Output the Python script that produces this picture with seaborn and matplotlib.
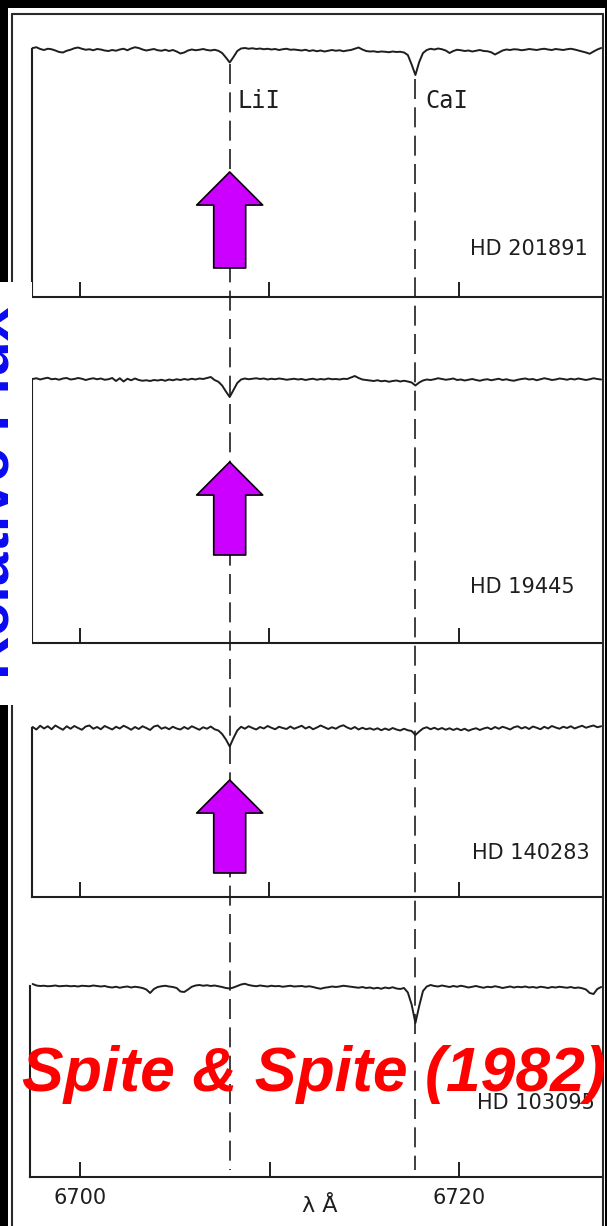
import numpy as np
import matplotlib
matplotlib.use("Agg")
import matplotlib.pyplot as plt
from matplotlib.lines import Line2D
from matplotlib.patches import Rectangle, FancyArrowPatch
from matplotlib.transforms import blended_transform_factory
import seaborn as sns

# ---------------- data ----------------
WAVE = np.round(np.linspace(6697.5, 6727.5, 151), 1)   # wavelength grid (Angstrom)
STARS = ["HD 201891", "HD 19445", "HD 140283", "HD 103095"]

FLUX_HD201891 = [
    100.6, 100.9, 100.2, 99.8, 100.3, 100.1, 99.6, 99.0, 98.8, 99.5,
    99.9, 100.5, 100.8, 100.3, 99.9, 100.1, 99.7, 100.2, 100.0, 99.6,
    99.4, 99.8, 99.5, 100.0, 100.3, 99.7, 100.4, 100.9, 100.6, 100.0,
    99.6, 99.9, 100.2, 99.7, 99.5, 99.9, 99.4, 99.8, 99.2, 98.4,
    98.8, 99.6, 100.0, 99.7, 99.9, 100.2, 99.8, 99.6, 99.9, 99.5,
    98.6, 96.8, 94.8, 97.0, 99.4, 100.4, 100.6, 100.3, 100.5, 100.2,
    100.4, 100.1, 100.3, 100.0, 100.2, 99.8, 100.1, 100.3, 99.9, 100.0,
    99.8, 99.6, 99.9, 99.4, 99.7, 99.3, 99.6, 99.2, 99.5, 99.8,
    99.5, 99.7, 99.3, 99.6, 99.8, 100.3, 100.8, 100.0, 99.4, 99.2,
    99.3, 99.0, 99.2, 99.1, 98.9, 99.2, 99.0, 99.1, 98.8, 97.8,
    94.0, 89.8, 95.0, 98.6, 99.8, 100.3, 100.0, 100.4, 100.1, 99.6,
    98.6, 99.4, 99.9, 99.7, 99.4, 99.6, 99.2, 99.5, 99.8, 99.4,
    99.3, 98.9, 98.0, 98.8, 99.6, 100.0, 99.8, 100.1, 100.0, 99.7,
    99.9, 100.2, 100.0, 99.8, 100.1, 100.3, 100.0, 99.8, 100.2, 100.0,
    99.8, 100.1, 100.3, 100.0, 99.6, 99.2, 98.8, 98.3, 99.2, 100.0,
    100.6]
FLUX_HD19445 = [
    100.0, 100.3, 99.8, 100.2, 100.5, 99.9, 100.1, 99.7, 100.2, 100.4,
    99.8, 100.0, 100.4, 100.1, 99.6, 100.0, 100.3, 99.9, 100.2, 99.7,
    99.9, 100.4, 99.2, 100.3, 99.0, 100.1, 99.5, 100.2, 99.6, 99.3,
    99.5, 99.2, 99.6, 99.4, 99.7, 99.3, 99.8, 99.5, 99.9, 99.6,
    100.0, 99.7, 100.1, 99.8, 100.2, 100.0, 100.4, 100.8, 99.6, 98.9,
    97.4, 95.0, 92.8, 95.6, 98.4, 99.8, 100.2, 99.9, 100.1, 100.3,
    100.0, 100.2, 99.8, 100.1, 99.9, 100.2, 100.0, 99.7, 99.9, 100.1,
    99.8, 100.0, 99.6, 99.9, 100.1, 99.7, 100.0, 99.8, 100.2, 99.9,
    100.0, 99.8, 100.1, 100.0, 100.6, 101.2, 100.4, 99.8, 99.6, 99.4,
    99.2, 99.5, 99.1, 99.3, 98.9, 99.2, 99.4, 99.0, 99.3, 99.0,
    98.6, 97.4, 98.6, 99.4, 99.8, 99.6, 99.9, 100.3, 100.0, 99.7,
    99.9, 100.2, 99.6, 99.8, 99.4, 99.7, 100.0, 99.6, 99.3, 99.7,
    99.9, 99.5, 99.8, 100.1, 99.6, 99.9, 99.5, 99.3, 99.7, 100.0,
    100.2, 99.8, 100.0, 99.5, 99.9, 100.3, 100.0, 99.6, 99.8, 100.2,
    100.0, 99.7, 100.1, 99.8, 100.2, 99.9, 99.6, 99.9, 100.3, 100.0,
    99.8]
FLUX_HD140283 = [
    100.4, 99.4, 100.9, 99.8, 100.7, 99.5, 101.0, 100.1, 99.3, 100.7,
    99.7, 100.8, 100.0, 99.3, 100.6, 101.0, 99.7, 100.4, 99.5, 100.8,
    100.1, 99.4, 100.5, 99.8, 100.9, 100.2, 99.3, 100.4, 99.6, 100.7,
    100.0, 99.2, 100.6, 101.0, 99.7, 100.3, 99.5, 100.5, 99.8, 99.4,
    100.4, 99.6, 100.7, 100.0, 99.3, 100.3, 99.7, 100.6, 99.5, 99.0,
    97.6, 95.4, 92.6, 96.0, 99.0, 100.5, 99.7, 100.7, 100.0, 99.4,
    100.4, 99.8, 100.8, 100.1, 99.5, 100.5, 100.0, 99.6, 100.6, 99.7,
    100.3, 100.9, 99.8, 100.5, 99.5, 100.2, 101.0, 100.3, 99.6, 100.3,
    99.7, 100.6, 101.1, 100.2, 99.6, 100.4, 99.4, 100.1, 99.5, 99.9,
    99.3, 99.9, 99.1, 99.8, 99.2, 100.0, 99.4, 99.0, 99.7, 99.1,
    98.8, 97.2, 98.6, 99.8, 100.3, 99.5, 100.1, 99.4, 100.0, 99.3,
    99.9, 99.2, 99.8, 99.1, 99.7, 98.9, 99.5, 99.9, 99.2, 99.8,
    100.2, 99.5, 100.4, 99.7, 100.5, 100.0, 99.4, 100.3, 100.7, 99.8,
    100.4, 99.6, 100.6, 100.1, 99.5, 100.5, 99.8, 100.8, 100.2, 99.7,
    100.5, 100.0, 100.7, 99.8, 100.4, 100.9, 100.1, 100.6, 101.0, 100.3,
    100.7]
FLUX_HD103095 = [
    100.8, 100.2, 100.0, 100.1, 99.9, 100.0, 100.2, 99.9, 100.0, 100.1,
    99.9, 100.0, 99.8, 100.1, 100.0, 99.9, 100.2, 100.0, 99.8, 100.0,
    99.6, 99.4, 99.7, 99.3, 99.6, 99.8, 99.4, 99.7, 99.5, 99.2,
    98.6, 97.2, 98.8, 99.6, 99.9, 100.1, 99.8, 99.6, 99.2, 97.8,
    97.6, 98.6, 99.7, 100.2, 100.4, 100.1, 100.3, 100.0, 100.2, 99.9,
    99.6, 99.2, 99.0, 99.4, 100.0, 100.6, 100.9, 100.4, 100.1, 99.9,
    100.2, 100.0, 99.8, 100.1, 99.9, 100.0, 99.7, 99.9, 100.1, 99.8,
    99.9, 100.0, 99.7, 99.9, 99.6, 99.2, 98.9, 99.3, 99.5, 99.8,
    99.6, 99.8, 100.1, 99.9, 99.7, 99.5, 99.3, 99.6, 99.2, 99.4,
    99.0, 99.3, 98.9, 99.4, 99.1, 99.5, 99.0, 98.8, 99.2, 97.4,
    92.6, 85.2, 92.0, 98.0, 99.8, 100.4, 100.0, 99.8, 100.2, 99.9,
    99.6, 100.0, 99.7, 100.1, 99.8, 99.4, 99.7, 100.0, 99.6, 99.3,
    99.7, 99.5, 99.9, 99.6, 99.2, 99.5, 99.8, 99.4, 99.7, 99.5,
    99.8, 99.4, 99.6, 99.3, 99.7, 99.5, 99.2, 99.6, 99.4, 99.7,
    99.5, 99.3, 99.6, 99.2, 99.4, 99.1, 98.6, 97.2, 96.8, 98.8,
    99.6]
FLUXES = [FLUX_HD201891, FLUX_HD19445, FLUX_HD140283, FLUX_HD103095]

LINE_WAVES = [6707.9, 6717.7]
LINE_LABELS = ["LiI", "CaI"]
LI_STARS = ["HD 201891", "HD 19445", "HD 140283"]   # stars marked with arrows
XTICKS = [6700, 6710, 6720]
XTICK_LABELS = ["6700", "", "6720"]
XLABEL = "λ Å"
YLABEL = "Relative Flux"
CREDIT = "Spite & Spite (1982)"

# ---------------- layout (pixels) ----------------
W, H = 607, 1226
PXA = 18.95          # pixels per Angstrom
PX_PER_PCT = 2.5     # pixels per percent flux
RIGHT = 603
PANELS = [  # left, continuum y, axis y
    (32, 49.5, 297),
    (32, 379, 643),
    (32, 728, 897),
    (30, 986, 1177),
]
LABEL_POS = [(470, 249), (470, 587), (472, 853), (477, 1103)]
ARROW_Y = [(172, 268), (462, 555), (780, 873)]
DASH_TOP = [64, 79]
DASH_BOTTOM = 1170
INK = "#1e1e1e"


def fx(px):
    return px / W


def fy(py):
    return 1 - py / H


sns.set_style("white")
plt.rcParams["font.family"] = ["DejaVu Sans"]

fig = plt.figure(figsize=(W / 100, H / 100), dpi=100)
fig.patch.set_facecolor("black")

# white page and outer frame
fig.add_artist(Rectangle((fx(8), fy(H)), fx(605) - fx(8), fy(8) - fy(H),
                         transform=fig.transFigure, facecolor="white",
                         edgecolor="none", zorder=-5))
for xs, ys in [((12, RIGHT), (14, 14)), ((12, 12), (14, H)), ((RIGHT, RIGHT), (14, H))]:
    fig.add_artist(Line2D([fx(x) for x in xs], [fy(y) for y in ys],
                          transform=fig.transFigure, color="#2a2a2a", lw=1.5, zorder=1))

axes = []
for i, (left, ycont, ybot) in enumerate(PANELS):
    ax = fig.add_axes([fx(left), fy(ybot), fx(RIGHT) - fx(left), fy(ycont) - fy(ybot)])
    ax.patch.set_visible(False)
    sns.lineplot(x=WAVE, y=FLUXES[i], ax=ax, color=INK, lw=1.4,
                 clip_on=False, estimator=None, sort=False)
    ax.set_xlim(6700 - (80 - left) / PXA, 6720 + (RIGHT - 459) / PXA)
    ax.set_ylim(100 - (ybot - ycont) / PX_PER_PCT, 100)
    ax.set_yticks([])
    ax.set_xticks(XTICKS)
    ax.tick_params(axis="x", direction="in", length=10.5, width=1.4, color=INK,
                   labelsize=15, labelcolor=INK, pad=8, bottom=True)
    if i == len(PANELS) - 1:
        ax.set_xticklabels(XTICK_LABELS)
    else:
        ax.set_xticklabels([])
    ax.set_xlabel("")
    ax.set_ylabel("")
    for s in ["top", "right"]:
        ax.spines[s].set_visible(False)
    for s in ["left", "bottom"]:
        ax.spines[s].set_color(INK)
        ax.spines[s].set_linewidth(1.5)
    axes.append(ax)
    fig.text(fx(LABEL_POS[i][0]), fy(LABEL_POS[i][1]), STARS[i], ha="left", va="center",
             fontsize=15, color=INK)

trans = blended_transform_factory(axes[0].transData, fig.transFigure)

# dashed line markers
for w, lab, ytop, lx in zip(LINE_WAVES, LINE_LABELS, DASH_TOP, [237, 425]):
    fig.add_artist(Line2D([w, w], [fy(ytop), fy(DASH_BOTTOM)], transform=trans,
                          color=INK, lw=1.2, linestyle=(0, (12, 5)), zorder=3))
    fig.text(fx(lx), fy(101), lab, ha="left", va="center", fontsize=17,
             family="DejaVu Sans Mono", color=INK)

# arrows at Li line
for star, (ytip, ybase) in zip(LI_STARS, ARROW_Y):
    arr = FancyArrowPatch((LINE_WAVES[0], fy(ybase)), (LINE_WAVES[0], fy(ytip)),
                          transform=trans,
                          arrowstyle="simple,head_length=2.38,head_width=4.75,tail_width=2.3",
                          mutation_scale=10, facecolor="#cc00ff", edgecolor="black",
                          lw=1.2, shrinkA=0, shrinkB=0, zorder=4)
    fig.add_artist(arr)

# x label
fig.text(fx(320), fy(1206), XLABEL, ha="center", va="center", fontsize=16, color=INK)

# y label (clipped at the left edge)
fig.add_artist(Rectangle((0, fy(705)), fx(32), fy(282) - fy(705),
                         transform=fig.transFigure, facecolor="white",
                         edgecolor="none", zorder=5))
fig.text(fx(9), fy(493), YLABEL, rotation=90, rotation_mode="anchor",
         ha="center", va="baseline", fontsize=43.5, fontweight="bold",
         family="Liberation Sans", color="#0a0af0", zorder=6)

# credit
fig.text(fx(22), fy(1091), CREDIT, ha="left", va="baseline", fontsize=45,
         fontweight="bold", fontstyle="italic", family="Liberation Sans",
         color="#ff0000", zorder=7)

fig.savefig("out.png", dpi=100, facecolor=fig.get_facecolor())
